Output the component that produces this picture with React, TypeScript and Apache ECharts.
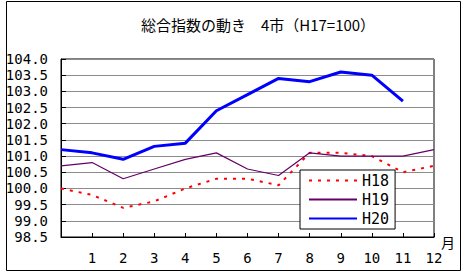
import React, { useEffect, useRef } from "react";
import * as echarts from "echarts";

const categories = ["", "1", "2", "3", "4", "5", "6", "7", "8", "9", "10", "11", "12"];
const h18 = [100.0, 99.8, 99.4, 99.6, 100.0, 100.3, 100.3, 100.1, 101.1, 101.1, 101.0, 100.5, 100.7];
const h19 = [100.7, 100.8, 100.3, 100.6, 100.9, 101.1, 100.6, 100.4, 101.1, 101.0, 101.0, 101.0, 101.2];
const h20 = [101.2, 101.1, 100.9, 101.3, 101.4, 102.4, 102.9, 103.4, 103.3, 103.6, 103.5, 102.7];
const titleText = "総合指数の動き　4市（H17=100）";
const monthUnit = "月";

const numFont = "'DejaVu Sans Mono', monospace";
const cjkFont = "'Noto Sans CJK JP', sans-serif";

export default function App() {
  const ref = useRef<HTMLDivElement>(null);
  useEffect(() => {
    if (!ref.current) return;
    const chart = echarts.init(ref.current, null, { renderer: "svg" });
    chart.setOption({
      animation: false,
      backgroundColor: "#ffffff",
      title: {
        text: titleText,
        left: 253,
        textAlign: "center",
        top: 12,
        textStyle: { fontFamily: cjkFont, fontSize: 15, fontWeight: "normal", color: "#000" },
      },
      grid: {
        left: 61,
        right: 32,
        top: 59,
        bottom: 39,
        show: true,
        borderColor: "#000",
        borderWidth: 1,
        backgroundColor: "transparent",
      },
      legend: {
        orient: "vertical",
        left: 300,
        top: 170,
        padding: [3, 6, 3, 8],
        itemGap: 4,
        itemWidth: 48,
        itemHeight: 14,
        backgroundColor: "#fff",
        borderColor: "#000",
        borderWidth: 1,
        itemStyle: { opacity: 0 },
        textStyle: { fontFamily: numFont, fontSize: 15, color: "#000" },
        data: ["H18", "H19", "H20"],
      },
      xAxis: {
        type: "category",
        data: categories,
        boundaryGap: false,
        axisLine: { lineStyle: { color: "#000", width: 1 } },
        axisTick: { inside: true, length: 4, lineStyle: { color: "#000" } },
        axisLabel: { fontFamily: numFont, fontSize: 14, color: "#000", margin: 14, interval: 0 },
        splitLine: { show: false },
      },
      yAxis: {
        type: "value",
        min: 98.5,
        max: 104,
        interval: 0.5,
        axisLine: { show: true, lineStyle: { color: "#000", width: 1 } },
        axisTick: { show: true, inside: true, length: 5, lineStyle: { color: "#000" } },
        axisLabel: {
          fontFamily: numFont,
          fontSize: 14,
          color: "#000",
          margin: 13,
          formatter: (v: number) => v.toFixed(1),
        },
        splitLine: { show: true, lineStyle: { color: "#8c8c8c", width: 1 } },
      },
      graphic: [
        {
          type: "rect",
          shape: { x: 6.5, y: 1.5, width: 454, height: 269 },
          style: { fill: "none", stroke: "#000", lineWidth: 1 },
          silent: true,
        },
        {
          type: "text",
          x: 441,
          y: 235,
          style: { text: monthUnit, font: `14px ${cjkFont}`, fill: "#000" },
          silent: true,
        },
      ],
      series: [
        {
          name: "H18",
          type: "line",
          data: h18,
          symbol: "none",
          lineStyle: { color: "#ff0000", width: 2, type: [3, 6] },
          itemStyle: { color: "#ff0000" },
          z: 2,
        },
        {
          name: "H19",
          type: "line",
          data: h19,
          symbol: "none",
          lineStyle: { color: "#660066", width: 1.2 },
          itemStyle: { color: "#660066" },
          z: 3,
        },
        {
          name: "H20",
          type: "line",
          data: h20,
          symbol: "none",
          lineStyle: { color: "#0000ff", width: 3 },
          itemStyle: { color: "#0000ff" },
          z: 4,
        },
      ],
    });
    return () => chart.dispose();
  }, []);
  return <div ref={ref} style={{ position: "fixed", left: 0, top: 0, width: 466, height: 276 }} />;
}
